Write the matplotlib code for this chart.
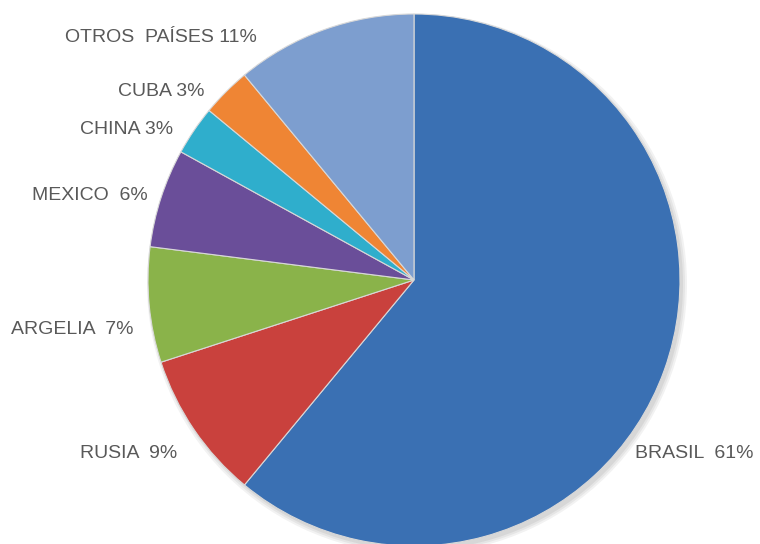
import matplotlib.pyplot as plt

# data, clockwise from the top
countries = ['BRASIL', 'RUSIA', 'ARGELIA', 'MEXICO', 'CHINA', 'CUBA', 'OTROS  PAÍSES']
shares = [61, 9, 7, 6, 3, 3, 11]
colors = ['#3A70B3', '#C9413D', '#8AB34A', '#6A4E99', '#2FAECC', '#EF8534', '#7D9ECF']
label_text = ['BRASIL  61%', 'RUSIA  9%', 'ARGELIA  7%', 'MEXICO  6%', 'CHINA 3%', 'CUBA 3%', 'OTROS  PAÍSES 11%']

# label anchors in pixel space (x, y from top)
label_pos = [(694, 454), (129, 454), (72, 330), (90, 195), (127, 130), (161, 91), (161, 38)]

W, H = 760, 544

fig = plt.figure(figsize=(W / 100, H / 100), dpi=100)
ax = fig.add_axes([0, 0, 1, 1])

cx, cy, r = 414, H - 280, 266

# soft shadow under the pie
for k, a in enumerate([0.05, 0.05, 0.06]):
    sh = plt.Circle((cx + 3, cy - 4), r + 4 - 2 * k, color='#000000', alpha=a, lw=0)
    ax.add_patch(sh)

ax.pie(shares, colors=colors, startangle=90, counterclock=False,
       center=(cx, cy), radius=r, frame=True,
       wedgeprops={'edgecolor': '#D8D8D8', 'linewidth': 0.8})
ax.set_xlim(0, W)
ax.set_ylim(0, H)
ax.set_aspect('equal')
ax.axis('off')

for txt, (x, y) in zip(label_text, label_pos):
    ax.text(x, H - y, txt, ha='center', va='center', fontsize=14,
            color='#595959', family=['Liberation Sans', 'DejaVu Sans'])

fig.savefig('out.png', dpi=100)
